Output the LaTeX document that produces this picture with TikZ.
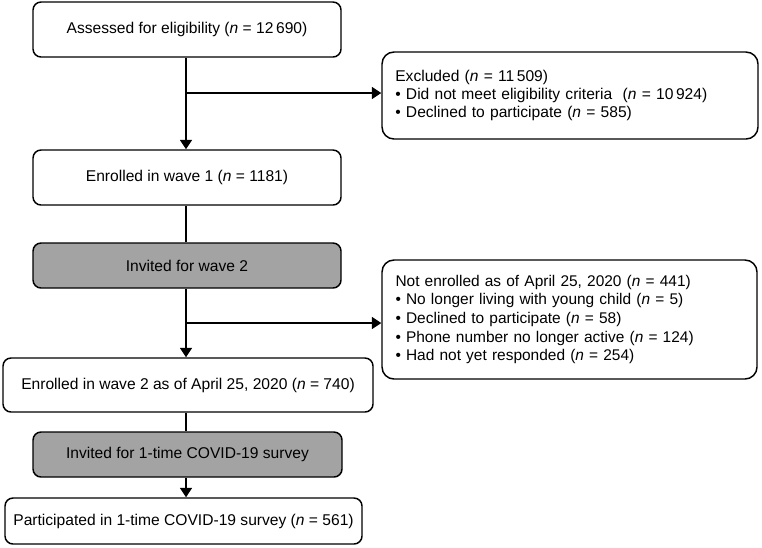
\documentclass[tikz,border=0pt]{standalone}
\usepackage{fontspec}
\setmainfont{Liberation Sans}
\usetikzlibrary{arrows.meta}
\definecolor{boxgrey}{RGB}{163,163,163}
\begin{document}
\begin{tikzpicture}[x=0.75pt,y=-0.75pt,
  font=\fontsize{11.7}{13.5}\selectfont,
  box/.style={draw=black, line width=1.1pt, rounded corners=6pt, fill=white, align=center, inner sep=0pt},
  greybox/.style={box, fill=boxgrey},
  listbox/.style={draw=black, line width=1.1pt, rounded corners=9pt, fill=white, align=left, inner xsep=10pt, inner ysep=0pt},
  conn/.style={line width=1.1pt},
  arr/.style={conn, -{Triangle[width=9pt,length=7pt]}}]
\useasboundingbox (0,0) rectangle (762,547);
\node[box, minimum width=231pt, minimum height=41.25pt] (assess) at (187,29.5) {Assessed for eligibility (\textit{n} = 12\,690)};
\node[listbox, minimum width=282pt, minimum height=65.25pt, text width=262pt] (excl) at (570,95.5)
  {Excluded (\textit{n} = 11\,509)\\
   • Did not meet eligibility criteria \ (\textit{n} = 10\,924)\\
   • Declined to participate (\textit{n} = 585)};
\node[box, minimum width=231pt, minimum height=41.25pt] (w1) at (187,177.5) {Enrolled in wave 1 (\textit{n} = 1181)};
\node[greybox, minimum width=231pt, minimum height=33.75pt] (inv2) at (187,265.5) {Invited for wave 2};
\node[listbox, minimum width=281.25pt, minimum height=89.25pt, text width=261pt, font=\fontsize{11.6}{13.9}\selectfont] (notenr) at (569.5,319.5)
  {Not enrolled as of April 25, 2020 (\textit{n} = 441)\\
   • No longer living with young child (\textit{n} = 5)\\
   • Declined to participate (\textit{n} = 58)\\
   • Phone number no longer active (\textit{n} = 124)\\
   • Had not yet responded (\textit{n} = 254)};
\node[box, minimum width=277.5pt, minimum height=40.5pt] (w2) at (188,385) {Enrolled in wave 2 as of April 25, 2020 (\textit{n} = 740)};
\node[greybox, minimum width=231.75pt, minimum height=33.75pt] (inv3) at (187.5,454.5) {Invited for 1-time COVID-19 survey};
\node[box, minimum width=267.75pt, minimum height=34.5pt] (part) at (183.5,521) {Participated in 1-time COVID-19 survey (\textit{n} = 561)};
\coordinate (b1) at (186,93);
\coordinate (b2) at (186,323);
\draw[arr] (assess.south -| b1) -- (w1.north -| b1);
\draw[arr] (b1) -- (excl.west |- b1);
\draw[conn] (w1.south -| b1) -- (inv2.north -| b1);
\draw[arr] (inv2.south -| b2) -- (w2.north -| b2);
\draw[arr] (b2) -- (notenr.west |- b2);
\draw[conn] (w2.south -| b1) -- (inv3.north -| b1);
\draw[arr] (inv3.south -| b1) -- (part.north -| b1);
\end{tikzpicture}
\end{document}
